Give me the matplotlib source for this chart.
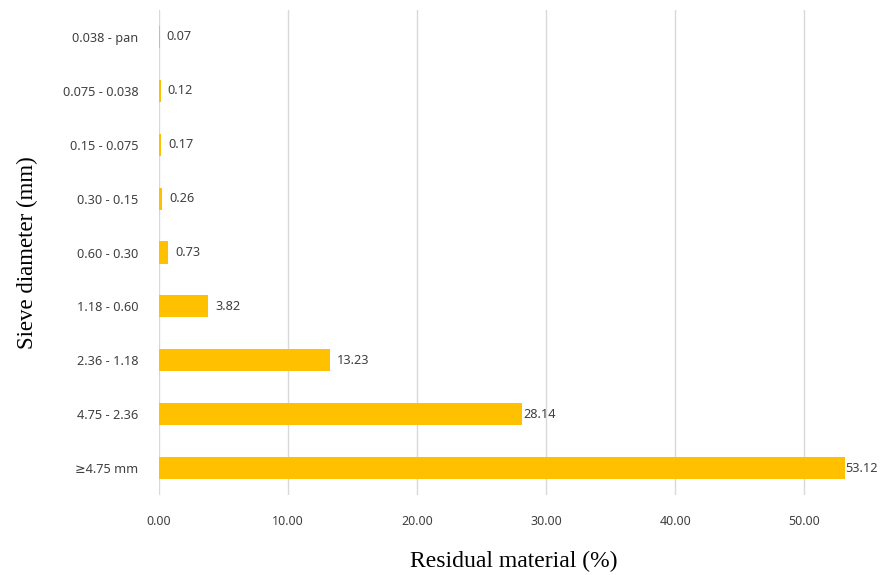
import matplotlib
matplotlib.use("Agg")
import matplotlib.pyplot as plt

# sieve fractions, bottom to top as drawn
sieves = ["≥4.75 mm", "4.75 - 2.36", "2.36 - 1.18", "1.18 - 0.60", "0.60 - 0.30",
          "0.30 - 0.15", "0.15 - 0.075", "0.075 - 0.038", "0.038 - pan"]
residual = [53.12, 28.14, 13.23, 3.82, 0.73, 0.26, 0.17, 0.12, 0.07]
xticks = [0, 10, 20, 30, 40, 50]

sans = ["Noto Sans", "DejaVu Sans"]

fig = plt.figure(figsize=(8.8, 5.75), dpi=100)
ax = fig.add_axes([0.1807, 0.139, 0.8068, 0.8436])

ypos = range(len(sieves))
ax.barh(ypos, residual, height=0.41, color="#FFC000", zorder=3)

for y, v in zip(ypos, residual):
    # long bars get their label tight against the end, like the original
    off = 0.5 if v > 20 else 5
    ax.annotate(f"{v:.2f}", (v, y), xytext=(off, 0), textcoords="offset points",
                va="center", ha="left", fontsize=9.2, color="#404040",
                family=sans)

ax.set_xlim(0, 55)
ax.set_ylim(-0.5, len(sieves) - 0.5)
ax.set_xticks(xticks)
ax.set_xticklabels([f"{t:.2f}" for t in xticks], family=sans, fontsize=9, color="#404040")
ax.set_yticks(list(ypos))
ax.set_yticklabels(sieves, family=sans, fontsize=9.2, color="#404040")
ax.tick_params(axis="x", length=0, pad=14)
ax.tick_params(axis="y", length=0, pad=15)

ax.grid(axis="x", color="#d9d9d9", linewidth=1, zorder=0)
for s in ax.spines.values():
    s.set_visible(False)

ax.set_xlabel("Residual material (%)", family="Liberation Serif", fontsize=17, labelpad=17)
ax.set_ylabel("Sieve diameter (mm)", family="Liberation Serif", fontsize=16.5, labelpad=18)

fig.savefig("out.png", dpi=100)
